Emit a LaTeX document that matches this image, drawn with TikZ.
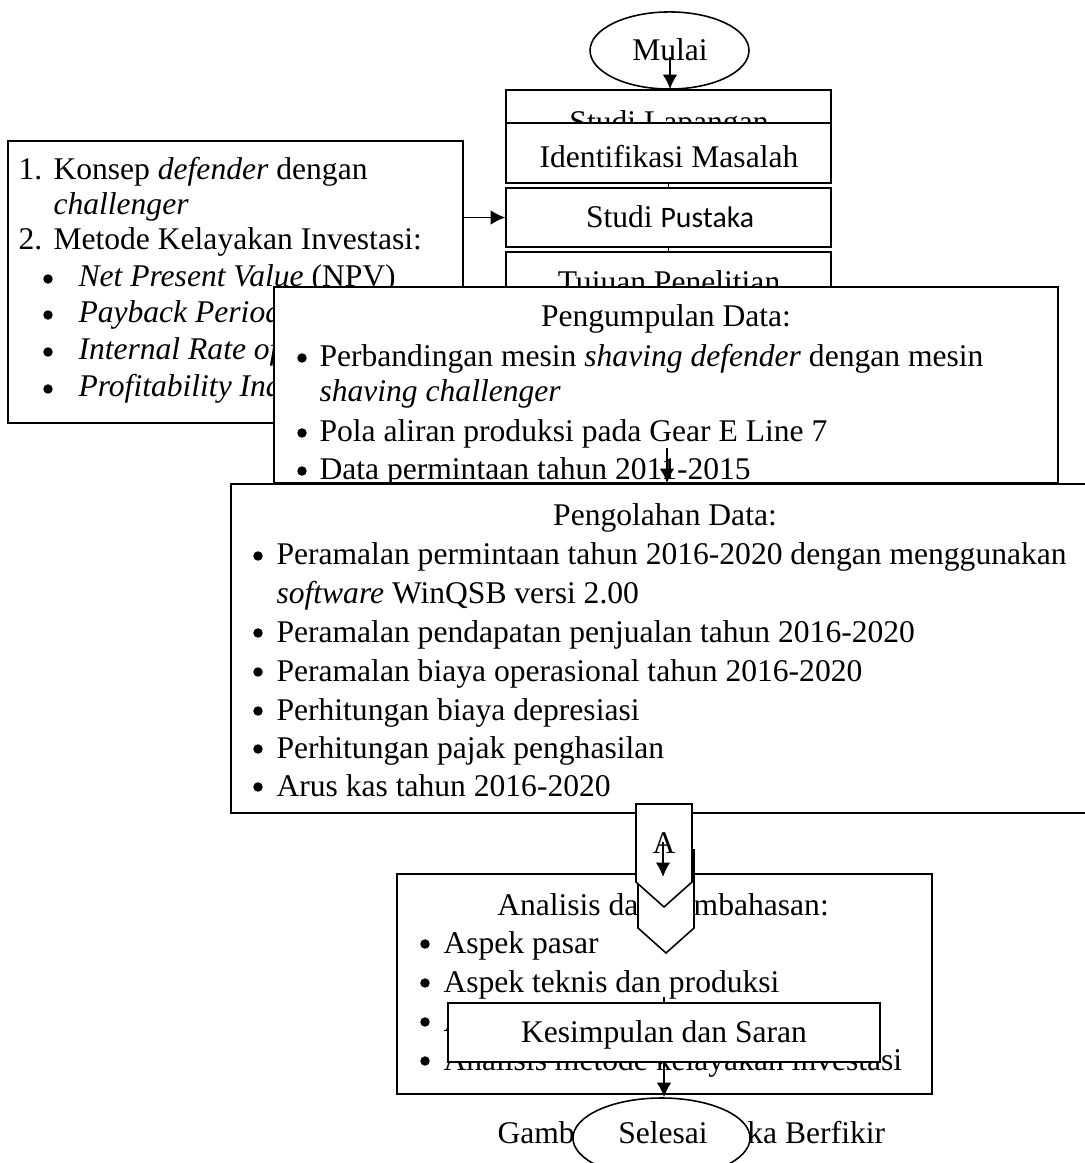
\documentclass[tikz,border=0pt]{standalone}
\usepackage{fontspec}
\setmainfont{Liberation Serif}
\newfontfamily\calibrifont{Carlito}
\usetikzlibrary{shapes.geometric,fit,arrows.meta}

\begin{document}
\begin{tikzpicture}[x=0.38pt,y=-0.38pt]

    \tikzset{
      box/.style={
        draw,
        fill=white,
        line width=0.6pt,
        inner sep=0pt,
      },
      terminal/.style={box, ellipse},
      txt/.style={inner sep=0pt, anchor=base west, font=\fontsize{12}{14}\selectfont},
      ctxt/.style={txt, anchor=base},
      blt/.style={circle, fill, inner sep=0pt, minimum size=3.6pt},
      arr/.style={line width=0.6pt, -{Latex[length=5.5pt,width=5.5pt]}},
      link/.style={line width=0.6pt},
    }
    \useasboundingbox (0,0) rectangle (1085,1163);

    % mulai
    \node[terminal, minimum width=60.4pt, minimum height=29.3pt] (mulai) at (669.5,50.5) {};
    \node[ctxt] (mulaitxt) at (670,61) {Mulai};
    \coordinate (mulaiout) at (670,57);

    % kolom atas
    \node[box, fit={(506,90) (831,150)}] (lapangan) {};
    \node[ctxt] at (669,133) {Studi Lapangan};
    \draw[arr] (mulaiout) -- (mulaiout |- lapangan.north);

    \node[box, fit={(506,123) (831,183)}] (identifikasi) {};
    \node[ctxt] at (669,168) {Identifikasi Masalah};

    \node[box, fit={(506,188) (831,247)}] (pustaka) {};
    \node[ctxt] at (670,228) {Studi {\calibrifont\fontsize{11.3}{14}\selectfont Pustaka}};
    \draw[link] (identifikasi.south) -- (pustaka.north);

    \node[box, fit={(506,252) (831,312)}] (tujuan) {};
    \node[ctxt] at (669,293) {Tujuan Penelitian};
    \draw[link] (pustaka.south) -- (tujuan.north);

    % teori
    \node[box, fit={(8,141) (463,423)}] (teori) {};
    \node[txt] at (18,180) {1.};
    \node[txt] at (53,180) {Konsep \textit{defender} dengan};
    \node[txt] at (53,215) {\textit{challenger}};
    \node[txt] at (18,250) {2.};
    \node[txt] at (53,250) {Metode Kelayakan Investasi:};
    \foreach \y/\t in {287/{\textit{Net Present Value} (NPV)},
                       323/{\textit{Payback Period} (PP)},
                       360/{\textit{Internal Rate of Return} (IRR)},
                       397/{\textit{Profitability Index} (PI)}} {
      \node[blt] at (48,\y-8) {};
      \node[txt] at (78,\y) {\t};
    }
    \draw[arr] (teori.east |- pustaka.west) -- (pustaka.west);

    % pengumpulan data
    \node[box, fit={(274,287) (1058,483)}] (kumpul) {};
    \node[ctxt] at (666,327) {Pengumpulan Data:};
    \foreach \y/\t in {367/{Perbandingan mesin \textit{shaving defender} dengan mesin},
                       442/{Pola aliran produksi pada Gear E Line 7},
                       480/{Data permintaan tahun 2011-2015}} {
      \node[blt] at (302,\y-9) {};
      \node[txt] at (319,\y) {\t};
    }
    \node[txt] at (319,402) {\textit{shaving challenger}};
    \coordinate (kumpulout) at (667,448);

    % pengolahan data
    \node[box, fit={(231,484) (1099,813)}] (olah) {};
    \draw[arr] (kumpulout) -- (kumpulout |- olah.north);
    \node[ctxt] at (665,526) {Pengolahan Data:};
    \foreach \y/\t in {565/{Peramalan permintaan tahun 2016-2020 dengan menggunakan},
                       642/{Peramalan pendapatan penjualan tahun 2016-2020},
                       681/{Peramalan biaya operasional tahun 2016-2020},
                       720/{Perhitungan biaya depresiasi},
                       758/{Perhitungan pajak penghasilan},
                       796/{Arus kas tahun 2016-2020}} {
      \node[blt] at (258,\y-9) {};
      \node[txt] at (276,\y) {\t};
    }
    \node[txt] at (276,603) {\textit{software} WinQSB versi 2.00};

    % analisis
    \node[box, fit={(397,874) (932,1094)}] (analisis) {};
    \node[ctxt] at (663,915) {Analisis dan Pembahasan:};
    \foreach \y/\t in {953/{Aspek pasar},
                       992/{Aspek teknis dan produksi},
                       1031/{Aspek finansial},
                       1070/{Analisis metode kelayakan investasi}} {
      \node[blt] at (425,\y-9) {};
      \node[txt] at (443,\y) {\t};
    }

    % penghubung A
    \draw[link, fill=white] (638,850) -- (694,850) -- (694,928) -- (666,953) -- (638,928) -- cycle;
    \draw[link, fill=white] (636,804) -- (692,804) -- (692,882) -- (664,907) -- (636,882) -- cycle;
    \node[ctxt] (hubA) at (664,853) {A};
    \coordinate (hubAout) at (663,842);
    \coordinate (hubAin) at (663,877);
    \draw[arr] (hubAout) -- (hubAin);

    % kesimpulan
    \node[box, fit={(448,1003) (880,1062)}] (simpul) {};
    \node[ctxt] at (664,1042) {Kesimpulan dan Saran};
    \coordinate (simpulin) at (664,997);
    \draw[link] (simpulin) -- (simpulin |- simpul.north);

    % selesai
    \node[txt] (judul) at (497,1143) {Gambar 3.1 Kerangka Berfikir};
    \node[terminal, minimum width=67.3pt, minimum height=30.4pt] (selesai) at (661.5,1138) {};
    \node[ctxt] at (663,1143) {Selesai};
    \draw[arr] (simpul.south) -- (simpul.south |- selesai.north);

\end{tikzpicture}
\end{document}
